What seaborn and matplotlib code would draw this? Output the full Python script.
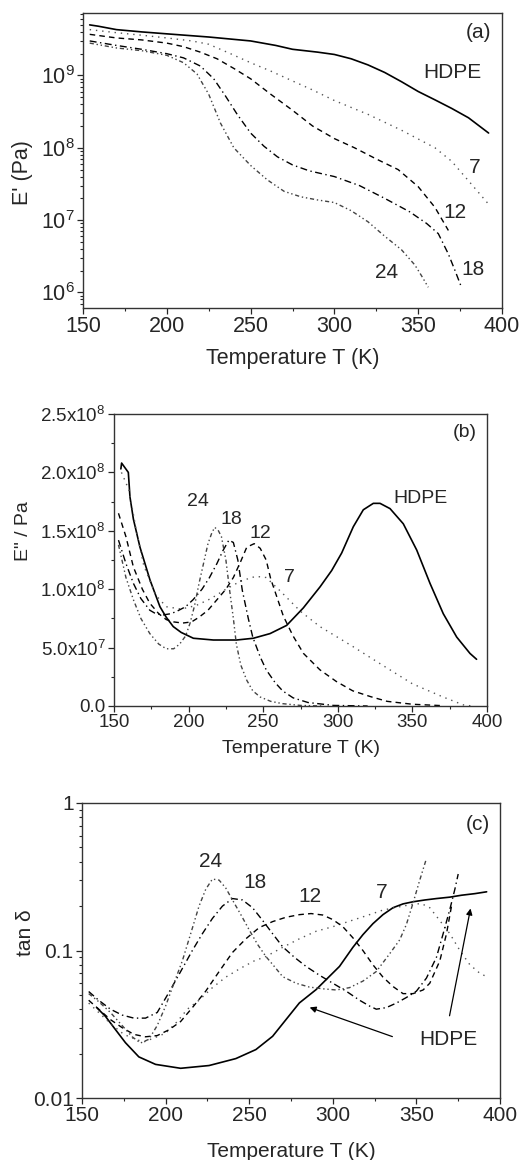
import numpy as np
import pandas as pd
import matplotlib
matplotlib.use("Agg")
import matplotlib.pyplot as plt
import matplotlib.ticker as mticker
import seaborn as sns

sns.set_style("ticks")
plt.rcParams['font.family'] = ['Liberation Sans', 'DejaVu Sans']
plt.rcParams['mathtext.fontset'] = 'custom'
plt.rcParams['mathtext.rm'] = 'Liberation Sans'
plt.rcParams['mathtext.it'] = 'Liberation Sans:italic'
plt.rcParams['mathtext.default'] = 'regular'

# ---------------- Panel (a): storage modulus E' (Pa) ----------------
a_hdpe_T = [154, 159, 170, 185, 200, 225, 250, 265, 275, 290, 300, 310, 320, 330, 340, 350, 360, 370, 380, 392]
a_hdpe_E = [5.0e9, 4.8e9, 4.3e9, 4.0e9, 3.76e9, 3.4e9, 3.0e9, 2.6e9, 2.3e9, 2.1e9, 1.95e9, 1.7e9, 1.4e9,
            1.1e9, 8.2e8, 6.0e8, 4.6e8, 3.5e8, 2.6e8, 1.6e8]
a_7_T = [154, 170, 185, 200, 215, 225, 238, 250, 262, 274, 287, 300, 320, 340, 360, 370, 380, 392]
a_7_E = [4.3e9, 3.9e9, 3.6e9, 3.3e9, 3.0e9, 2.7e9, 2.0e9, 1.5e9, 1.15e9, 8.6e8, 6.3e8, 4.5e8, 2.9e8, 1.75e8,
         1.0e8, 6.5e7, 3.5e7, 1.66e7]
a_12_T = [154, 170, 185, 200, 210, 220, 230, 240, 250, 262, 275, 287, 300, 312, 325, 338, 350, 360, 368]
a_12_E = [3.7e9, 3.3e9, 3.1e9, 2.8e9, 2.5e9, 2.1e9, 1.7e9, 1.25e9, 9.0e8, 5.5e8, 3.3e8, 2.0e8, 1.34e8, 1.0e8,
          7.0e7, 5.0e7, 2.9e7, 1.5e7, 7.2e6]
a_18_T = [154, 170, 185, 200, 210, 220, 228, 235, 242, 250, 258, 266, 275, 285, 300, 315, 330, 345, 355, 362,
          368, 372, 376]
a_18_E = [3.0e9, 2.6e9, 2.3e9, 2.0e9, 1.75e9, 1.35e9, 9.0e8, 5.2e8, 2.9e8, 1.6e8, 1.05e8, 7.5e7, 5.8e7, 4.8e7,
          4.0e7, 3.0e7, 2.0e7, 1.3e7, 9.0e6, 6.5e6, 3.4e6, 2.0e6, 1.15e6]
a_24_T = [154, 170, 185, 200, 210, 218, 225, 232, 240, 250, 260, 270, 280, 290, 300, 310, 320, 330, 340, 348,
          352, 356]
a_24_E = [2.8e9, 2.4e9, 2.2e9, 1.9e9, 1.5e9, 1.05e9, 5.5e8, 2.2e8, 1.0e8, 5.7e7, 3.6e7, 2.5e7, 2.1e7, 1.9e7,
          1.75e7, 1.35e7, 9.5e6, 6.0e6, 3.9e6, 2.4e6, 1.7e6, 1.18e6]

# ---------------- Panel (b): loss modulus E'' (units of 1e8 Pa) ----------------
b_hdpe_T = [154.6, 155.1, 159.6, 160.7, 163, 167.4, 174.1, 180.8, 185, 189.7, 195, 203.2, 216.6, 232.2, 243.4,
            254.6, 265.7, 276.9, 288.1, 295.9, 302.6, 310.4, 317.1, 323.8, 328.3, 335, 343.9, 352.9, 361.8,
            370.7, 379.7, 388.6, 393]
b_hdpe_E = [2.03, 2.08, 2.0, 1.79, 1.6, 1.36, 1.08, 0.85, 0.76, 0.68, 0.63, 0.58, 0.565, 0.565, 0.58, 0.62,
            0.69, 0.84, 1.02, 1.16, 1.31, 1.535, 1.68, 1.735, 1.735, 1.69, 1.56, 1.335, 1.05, 0.79, 0.59, 0.45,
            0.40]
b_7_T = [155, 160, 165, 170, 178, 185, 195, 205, 215, 225, 235, 245, 252, 261, 275, 288, 310, 328, 350, 370,
         384, 390]
b_7_E = [2.0, 1.85, 1.5, 1.2, 0.95, 0.85, 0.83, 0.86, 0.92, 1.0, 1.07, 1.11, 1.10, 0.99, 0.81, 0.68, 0.51,
         0.365, 0.19, 0.08, 0.01, 0.0]
b_12_T = [153, 158, 163, 169, 174, 180, 185, 190, 196, 202, 207, 213, 219, 225, 230, 235, 239, 244, 248, 252,
          255, 263.5, 270, 277, 288, 299, 310, 322, 333, 350, 370]
b_12_E = [1.65, 1.45, 1.19, 1.0, 0.88, 0.79, 0.74, 0.72, 0.71, 0.72, 0.76, 0.82, 0.91, 1.0, 1.1, 1.24, 1.36,
          1.39, 1.35, 1.25, 1.09, 0.77, 0.60, 0.45, 0.31, 0.21, 0.13, 0.08, 0.04, 0.015, 0.003]
b_18_T = [153, 158, 163, 168, 174, 178, 183, 188, 192, 198, 203, 209, 214, 219, 223, 227, 230, 233, 236, 240,
          243, 248, 252, 258, 263, 270, 280, 297, 320]
b_18_E = [1.42, 1.22, 1.05, 0.92, 0.82, 0.79, 0.78, 0.79, 0.81, 0.85, 0.91, 1.0, 1.1, 1.22, 1.33, 1.42, 1.40,
          1.25, 0.99, 0.75, 0.59, 0.42, 0.31, 0.2, 0.13, 0.07, 0.03, 0.005, 0.0]
b_24_T = [153, 158, 163, 168, 174, 180, 185, 190, 194, 198, 201, 204, 207, 210, 213, 215.5, 217.5, 220, 222,
          225, 227.5, 230, 232, 235, 239, 243, 248, 255, 263, 275, 290]
b_24_E = [1.38, 1.1, 0.91, 0.75, 0.62, 0.53, 0.49, 0.49, 0.53, 0.6, 0.71, 0.86, 1.05, 1.22, 1.39, 1.48, 1.53,
          1.5, 1.45, 1.25, 0.99, 0.75, 0.53, 0.35, 0.22, 0.13, 0.077, 0.04, 0.02, 0.005, 0.0]

# ---------------- Panel (c): tan delta ----------------
c_hdpe_T = [159, 164, 170, 176, 184, 194, 209, 226, 242, 254, 264, 272, 280, 290, 298, 304, 312, 318, 324, 330,
            336, 342, 348, 355, 362, 370, 377, 385, 392]
c_hdpe_D = [0.0408, 0.0358, 0.0291, 0.0237, 0.019, 0.0169, 0.0159, 0.0166, 0.0185, 0.0213, 0.0262, 0.034,
            0.0441, 0.0543, 0.0668, 0.078, 0.105, 0.128, 0.152, 0.175, 0.195, 0.207, 0.214, 0.22, 0.225, 0.23,
            0.237, 0.243, 0.25]
c_7_T = [154, 160, 167, 175, 182, 187, 193, 200, 207, 213, 220, 228, 236, 245, 253, 260, 270, 280, 290, 300, 310,
         320, 330, 340, 348, 353, 358, 363, 370, 376, 382, 388, 392]
c_7_D = [0.044, 0.038, 0.032, 0.027, 0.025, 0.024, 0.0255, 0.0275, 0.033, 0.04, 0.046, 0.056, 0.066, 0.076,
         0.085, 0.091, 0.105, 0.12, 0.135, 0.145, 0.158, 0.172, 0.188, 0.198, 0.206, 0.208, 0.195, 0.165, 0.13,
         0.1, 0.08, 0.07, 0.0665]
c_12_T = [154, 160, 167, 174, 181, 188, 195, 202, 209, 216, 224, 232, 240, 248, 256, 264, 272, 280, 287, 294,
          300, 306, 312, 318, 324, 330, 336, 342, 348, 354, 358, 364, 368, 371]
c_12_D = [0.046, 0.04, 0.034, 0.03, 0.027, 0.026, 0.0265, 0.029, 0.033, 0.041, 0.053, 0.072, 0.097, 0.12,
          0.143, 0.157, 0.168, 0.175, 0.178, 0.174, 0.162, 0.145, 0.122, 0.1, 0.08, 0.066, 0.057, 0.051, 0.051,
          0.054, 0.06, 0.085, 0.13, 0.2]
c_18_T = [154, 160, 167, 174, 181, 188, 195, 202, 209, 216, 222, 228, 234, 240, 246, 252, 258, 264, 270, 277,
          284, 292, 300, 308, 316, 322, 326, 332, 338, 344, 350, 356, 362, 366, 370, 373, 375]
c_18_D = [0.0527, 0.046, 0.04, 0.0365, 0.0348, 0.0348, 0.038, 0.052, 0.072, 0.1, 0.13, 0.165, 0.2, 0.225, 0.22,
          0.195, 0.16, 0.13, 0.106, 0.09, 0.078, 0.068, 0.06, 0.053, 0.046, 0.042, 0.040, 0.041, 0.044, 0.048,
          0.053, 0.065, 0.09, 0.13, 0.19, 0.26, 0.33]
c_24_T = [154, 160, 167, 174, 180, 185, 190, 195, 200, 205, 210, 215, 220, 224, 228, 232, 236, 240, 245, 250,
          255, 260, 265, 270, 278, 286, 294, 302, 310, 318, 326, 334, 340, 344, 348, 352, 356]
c_24_D = [0.051, 0.045, 0.038, 0.031, 0.026, 0.0236, 0.025, 0.031, 0.042, 0.06, 0.085, 0.13, 0.2, 0.26, 0.305,
          0.3, 0.265, 0.22, 0.175, 0.138, 0.11, 0.091, 0.078, 0.0665, 0.06, 0.0565, 0.055, 0.054, 0.056, 0.062,
          0.072, 0.095, 0.118, 0.15, 0.21, 0.3, 0.42]

b_ytick_vals = [0.0, 0.5, 1.0, 1.5, 2.0, 2.5]
b_ytick_labels = ['0.0', r'5.0x10$^{7}$', r'1.0x10$^{8}$', r'1.5x10$^{8}$', r'2.0x10$^{8}$', r'2.5x10$^{8}$']
c_ytick_vals = [0.01, 0.1, 1]
c_ytick_labels = ['0.01', '0.1', '1']
x_ticks = [150, 200, 250, 300, 350, 400]

# Styles
STY = {
    'HDPE': dict(color='black', lw=1.2, ls='-'),
    '7': dict(color='#555555', lw=1.0, ls=(0, (1, 3.5))),
    '12': dict(color='black', lw=1.0, ls=(0, (4, 3))),
    '18': dict(color='black', lw=1.0, ls=(0, (5, 2.5, 1, 2.5))),
    '24': dict(color='#444444', lw=1.0, ls=(0, (3, 2, 1, 2, 1, 2))),
}

W, H = 527, 1160
fig = plt.figure(figsize=(W / 100, H / 100), dpi=100)


def ax_rect(l, t, r, b):
    return [l / W, 1 - b / H, (r - l) / W, (b - t) / H]


ax_a = fig.add_axes(ax_rect(83, 13, 502, 308))
ax_b = fig.add_axes(ax_rect(114, 414, 487, 706))
ax_c = fig.add_axes(ax_rect(82, 803, 500, 1098))


def draw(ax, T, Y, key, scale=1.0):
    df = pd.DataFrame({'T': T, 'Y': np.asarray(Y) * scale})
    st = STY[key]
    sns.lineplot(data=df, x='T', y='Y', ax=ax, estimator=None, sort=False,
                 color=st['color'], linewidth=st['lw'], linestyle=st['ls'])


def style_axes(ax, fs):
    for s in ax.spines.values():
        s.set_linewidth(1.0)
        s.set_color('#333333')
    ax.tick_params(which='major', direction='out', length=4, width=0.9, labelsize=fs, pad=2)
    ax.tick_params(which='minor', direction='out', length=2.2, width=0.8)
    ax.set_xlim(150, 400)
    ax.set_xticks(x_ticks)
    ax.xaxis.set_minor_locator(mticker.MultipleLocator(25))


# Panel (a)
for T, Y, k in [(a_hdpe_T, a_hdpe_E, 'HDPE'), (a_7_T, a_7_E, '7'), (a_12_T, a_12_E, '12'),
                (a_18_T, a_18_E, '18'), (a_24_T, a_24_E, '24')]:
    draw(ax_a, T, Y, k)
ax_a.set_yscale('log')
ax_a.set_ylim(6.1e5, 7.3e9)
style_axes(ax_a, 15.5)
ax_a.yaxis.set_major_locator(mticker.FixedLocator([1e6, 1e7, 1e8, 1e9]))
ax_a.yaxis.set_minor_locator(mticker.LogLocator(base=10, subs=np.arange(2, 10)))
ax_a.yaxis.set_minor_formatter(mticker.NullFormatter())
ax_a.set_xlabel('Temperature T (K)', fontsize=15.5, labelpad=8)
ax_a.set_ylabel("E' (Pa)", fontsize=15.5)
ax_a.yaxis.set_label_coords(-0.119, 0.46)
for txt, x, y in [('(a)', 385.7, 3.95e9), ('HDPE', 370.2, 1.11e9), ('7', 383.9, 5.3e7),
                  ('12', 372, 1.26e7), ('18', 382.7, 2.06e6), ('24', 331.4, 1.86e6)]:
    ax_a.text(x, y, txt, fontsize=15, ha='center', va='center')

# Panel (b)
for T, Y, k in [(b_hdpe_T, b_hdpe_E, 'HDPE'), (b_7_T, b_7_E, '7'), (b_12_T, b_12_E, '12'),
                (b_18_T, b_18_E, '18'), (b_24_T, b_24_E, '24')]:
    draw(ax_b, T, Y, k, scale=1e8)
ax_b.set_ylim(0, 2.5e8)
style_axes(ax_b, 13.5)
ax_b.set_yticks([v * 1e8 for v in b_ytick_vals])
ax_b.set_yticklabels(b_ytick_labels)
ax_b.yaxis.set_minor_locator(mticker.MultipleLocator(2.5e7))
ax_b.set_xlabel('Temperature T (K)', fontsize=14, labelpad=6)
ax_b.set_ylabel('E" / Pa', fontsize=14)
ax_b.yaxis.set_label_coords(-0.22, 0.6)
for txt, x, y in [('(b)', 385.3, 2.34e8), ('HDPE', 355.1, 1.78e8), ('24', 206.3, 1.75e8),
                  ('18', 228.4, 1.6e8), ('12', 247.9, 1.48e8), ('7', 267.3, 1.10e8)]:
    ax_b.text(x, y, txt, fontsize=14, ha='center', va='center')

# Panel (c)
for T, Y, k in [(c_hdpe_T, c_hdpe_D, 'HDPE'), (c_7_T, c_7_D, '7'), (c_12_T, c_12_D, '12'),
                (c_18_T, c_18_D, '18'), (c_24_T, c_24_D, '24')]:
    draw(ax_c, T, Y, k)
ax_c.set_yscale('log')
ax_c.set_ylim(0.01, 1)
style_axes(ax_c, 15)
ax_c.yaxis.set_major_locator(mticker.FixedLocator(c_ytick_vals))
ax_c.yaxis.set_major_formatter(mticker.FixedFormatter(c_ytick_labels))
ax_c.yaxis.set_minor_locator(mticker.LogLocator(base=10, subs=np.arange(2, 10)))
ax_c.yaxis.set_minor_formatter(mticker.NullFormatter())
ax_c.set_xlabel('Temperature T (K)', fontsize=15, labelpad=12)
ax_c.set_ylabel('tan δ', fontsize=15)
ax_c.yaxis.set_label_coords(-0.112, 0.56)
for txt, x, y in [('24', 226.6, 0.40), ('18', 253.5, 0.288), ('12', 286.4, 0.231), ('7', 329.4, 0.246),
                  ('(c)', 386.8, 0.71), ('HDPE', 368.9, 0.0249)]:
    ax_c.text(x, y, txt, fontsize=15, ha='center', va='center')
ax_c.annotate('', xy=(284.6, 0.0417), xytext=(337.2, 0.0257),
              arrowprops=dict(arrowstyle='-|>', color='black', lw=0.9, mutation_scale=9))
ax_c.annotate('', xy=(382.7, 0.201), xytext=(369.5, 0.0346),
              arrowprops=dict(arrowstyle='-|>', color='black', lw=0.9, mutation_scale=9))

fig.savefig('out.png', dpi=100)
